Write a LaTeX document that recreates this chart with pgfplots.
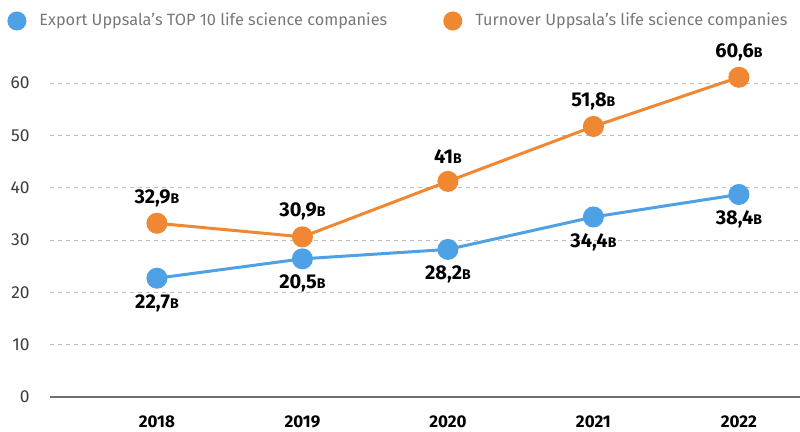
\documentclass[border=0pt]{standalone}
\usepackage{fontspec}
\setmainfont{Fira Sans}
\usepackage{pgfplots}
\usepackage{pgfplotstable}
\pgfplotsset{compat=1.18}
\definecolor{blueC}{RGB}{79,161,230}
\definecolor{orangeC}{RGB}{239,135,51}
\definecolor{gridC}{RGB}{190,190,190}
\definecolor{axisC}{RGB}{110,110,110}
\definecolor{tickC}{RGB}{60,60,60}
\definecolor{legC}{RGB}{120,120,120}
\pgfplotstableread{
x y lab
0 22.7 22,7
1 26.4 20,5
2 28.2 28,2
3 34.4 34,4
4 38.7 38,4
}\exporttab
\pgfplotstableread{
x y lab
0 33.2 32,9
1 30.6 30,9
2 41.2 41
3 51.7 51,8
4 61.1 60,6
}\turnovertab
\newcommand{\lab}[1]{\fontsize{10}{12}\selectfont\bfseries #1{\fontsize{7}{8}\selectfont B}}
\begin{document}
\begin{tikzpicture}
\path[use as bounding box] (-25pt,-17.5pt) rectangle (375pt,198.5pt);
\begin{axis}[
  at={(0,0)}, anchor=south west,
  scale only axis, width=375pt, height=183.15pt,
  xmin=-0.735, xmax=4.42, ymin=0, ymax=70,
  axis x line*=bottom, axis y line*=left,
  x axis line style={draw=axisC, line width=0.75pt, -},
  y axis line style={draw=none},
  ytick={0,10,...,60},
  xtick={0,1,2,3,4},
  xticklabels={2018,2019,2020,2021,2022},
  major tick length=0pt,
  ymajorgrids,
  grid style={gridC, line width=0.5pt, dash pattern=on 2pt off 2pt},
  /pgf/number format/assume math mode=true,
  yticklabel style={font=\fontsize{8.7}{10}\selectfont, text=tickC, inner sep=0pt, anchor=east, xshift=-10pt},
  xticklabel style={font=\fontsize{8.5}{10}\selectfont\bfseries, text=black, inner sep=0pt, anchor=north, yshift=-9pt},
  clip=false,
  legend columns=2,
  legend style={draw=none, fill=none, inner sep=0pt, at={(-0.0573,1.0265)}, anchor=west,
    font=\fontsize{8.15}{10}\selectfont, text=legC, nodes={inner sep=0pt},
    /tikz/every odd column/.append style={column sep=6.5pt},
    /tikz/every even column/.append style={column sep=28pt}},
]
\addplot[blueC, line width=1.5pt, mark=*, mark size=4.5pt, mark options={draw=none, fill=blueC},
  point meta=explicit symbolic,
  nodes near coords={\lab{\pgfplotspointmeta}},
  every node near coord/.append style={text=black, anchor=center, yshift=-12.5pt},
  legend image code/.code={\fill[blueC] (4pt,0pt) circle (4pt);}]
  table[x=x, y=y, meta=lab] {\exporttab};
\addlegendentry{Export Uppsala’s TOP 10 life science companies}
\addplot[orangeC, line width=1.5pt, mark=*, mark size=4.5pt, mark options={draw=none, fill=orangeC},
  point meta=explicit symbolic,
  nodes near coords={\lab{\pgfplotspointmeta}},
  every node near coord/.append style={text=black, anchor=center, yshift=12.5pt},
  legend image code/.code={\fill[orangeC] (4pt,0pt) circle (4pt);}]
  table[x=x, y=y, meta=lab] {\turnovertab};
\addlegendentry{Turnover Uppsala’s life science companies}
\end{axis}
\end{tikzpicture}
\end{document}
